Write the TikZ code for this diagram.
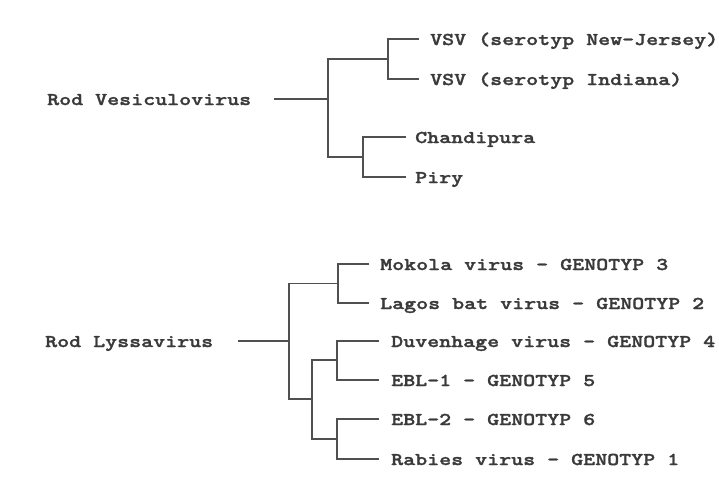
\documentclass[tikz,border=0pt]{standalone}
\usepackage{fontspec}
\newfontfamily\twfont{lmmonolt10-bold.otf}[FakeStretch=1.27, FakeBold=1.6]
\newcommand{\lblfont}{\twfont\fontsize{18}{20}\selectfont}
\definecolor{txtgray}{HTML}{3A3A3A}
\definecolor{linegray}{HTML}{505050}
\begin{document}
\begin{tikzpicture}[x=1pt,y=-1pt,
  lbl/.style={font=\lblfont, text=txtgray, inner ysep=0pt, text height=12pt, text depth=0pt},
  leaf/.style={lbl, anchor=west, inner xsep=11pt},
  rootlbl/.style={lbl, anchor=west, inner xsep=0pt},
  br/.style={draw=linegray, line width=1.2pt}]
\fill[white] (0,0) rectangle (719,477);
\useasboundingbox (0,0) rectangle (719,477);

% ---- Vesiculovirus ----
\node[rootlbl] (rv) at (47,99) {Rod Vesiculovirus};
\coordinate (rvs) at (274,99);
\coordinate (v0) at (328,99);
\coordinate (v1) at (388,59);
\coordinate (v2) at (363,157);
\node[leaf] (nj)  at (419,39)  {VSV (serotyp New-Jersey)};
\node[leaf] (ind) at (419,79)  {VSV (serotyp Indiana)};
\node[leaf, inner xsep=9pt] (cha) at (406,137) {Chandipura};
\node[leaf, inner xsep=9pt] (pir) at (406,177) {Piry};

\draw[br] (rvs) -- (v0);
\draw[br] (v1) -| (v0) |- (v2);
\draw[br] (nj.west) -| (v1) |- (ind.west);
\draw[br] (cha.west) -| (v2) |- (pir.west);

% ---- Lyssavirus ----
\node[rootlbl] (ly) at (45,341) {Rod Lyssavirus};
\coordinate (lys) at (238,341);
\coordinate (L0) at (289,341);
\coordinate (L1) at (338,283.5);
\coordinate (L2) at (312,399);
\coordinate (L3) at (337,360);
\coordinate (L4) at (337,439);
\node[leaf] (mok) at (369,264) {Mokola virus - GENOTYP 3};
\node[leaf] (lag) at (369,303) {Lagos bat virus - GENOTYP 2};
\node[leaf, inner xsep=12pt] (duv) at (379,341) {Duvenhage virus - GENOTYP 4};
\node[leaf, inner xsep=12pt] (e1)  at (379,380) {EBL-1 - GENOTYP 5};
\node[leaf, inner xsep=12pt] (e2)  at (379,419) {EBL-2 - GENOTYP 6};
\node[leaf, inner xsep=12pt] (rab) at (379,459) {Rabies virus - GENOTYP 1};

\draw[br] (lys) -- (L0);
\draw[br] (L1) -| (L0) |- (L2);
\draw[br] (mok.west) -| (L1) |- (lag.west);
\draw[br] (L3) -| (L2) |- (L4);
\draw[br] (duv.west) -| (L3) |- (e1.west);
\draw[br] (e2.west) -| (L4) |- (rab.west);
\end{tikzpicture}
\end{document}
